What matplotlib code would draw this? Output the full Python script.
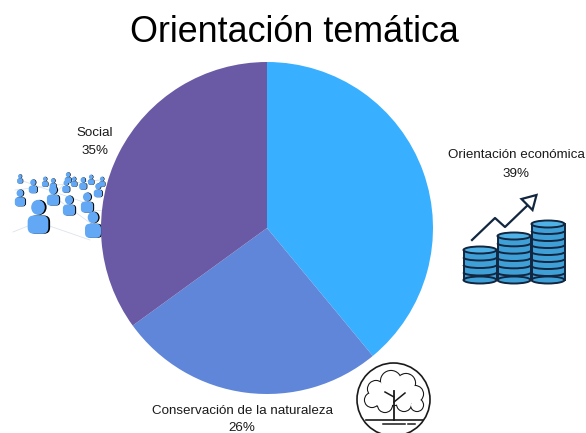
import matplotlib
matplotlib.use("Agg")
import matplotlib.pyplot as plt
from matplotlib.patches import Arc, Circle, Ellipse, FancyBboxPatch, Polygon, Rectangle

plt.rcParams["font.family"] = ["Liberation Sans", "DejaVu Sans"]

title = "Orientación temática"
categories = ["Orientación económica", "Conservación de la naturaleza", "Social"]
shares = [39, 26, 35]
colors = ["#38B0FF", "#5F86D9", "#6A5AA5"]

W, H = 586, 433
label_pos = [(516, 164.5), (242, 419.5), (95, 142)]
label_spacing = [1.75, 1.5, 1.75]  # bottom label sits right on the image edge

DARK = "#12263F"


def draw_person(ax, x, y, s):
    # black shadow first, then the blue figure on top
    for dx, col, z in [(0.08 * s, "black", 3), (0, "#62A8F5", 4)]:
        ax.add_patch(Ellipse((x + dx, y - 0.62 * s), 0.62 * s, 0.68 * s, fc=col, ec="none", zorder=z))
        ax.add_patch(FancyBboxPatch((x - 0.47 * s + dx, y - 0.25 * s), 0.94 * s, 0.83 * s,
                                    boxstyle="round,pad=0,rounding_size=%f" % (0.28 * s),
                                    fc=col, ec="none", zorder=z))


def draw_people(ax):
    links = [((13, 232), (38, 222)), ((15, 190), (100, 180)), ((38, 222), (90, 240)),
             ((20, 180), (92, 205)), ((53, 196), (38, 218)), ((53, 196), (93, 225)),
             ((68, 180), (53, 196)), ((86, 210), (107, 211)), ((93, 225), (107, 238))]
    for a, b in links:
        ax.plot([a[0], b[0]], [a[1], b[1]], color="#DCE4EC", lw=0.6, zorder=2)
    people = [(20, 180, 6), (33, 188, 9), (45, 183, 6.5), (53, 185, 7), (68, 179, 7),
              (66, 188, 8), (74, 183, 6.5), (83, 185, 8), (91, 181, 6.5), (102, 183, 6.5),
              (98, 192, 9), (20, 200, 11), (53, 198, 13), (69, 208, 13), (87, 205, 13),
              (38, 221, 22), (93, 228, 17)]
    for x, y, s in people:
        draw_person(ax, x, y, s)


def draw_stack(ax, xc, top, bottom, n):
    w = 33
    h = (bottom - top) / n
    ax.add_patch(Rectangle((xc - w / 2, top), w, bottom - top, fc="#3FA0D8", ec="none", zorder=3))
    ax.add_patch(Ellipse((xc, bottom), w, 7, fc="#3FA0D8", ec=DARK, lw=1.4, zorder=3))
    ax.plot([xc - w / 2, xc - w / 2], [top, bottom], color=DARK, lw=1.4, zorder=5)
    ax.plot([xc + w / 2, xc + w / 2], [top, bottom], color=DARK, lw=1.4, zorder=5)
    for i in range(1, n):
        ax.add_patch(Arc((xc, top + i * h), w, 6, theta1=0, theta2=180, ec=DARK, lw=1.4, zorder=4))
    ax.add_patch(Ellipse((xc, top), w, 7, fc="#4FB2E6", ec=DARK, lw=1.4, zorder=6))


def draw_coins(ax):
    draw_stack(ax, 480, 250, 280, 4)
    draw_stack(ax, 514, 236, 280, 6)
    draw_stack(ax, 548, 224, 280, 8)
    ax.plot([472, 495, 505, 530], [240, 218, 227, 203], color=DARK, lw=1.6, zorder=5)
    ax.add_patch(Polygon([(521.5, 199), (536.5, 195), (532.5, 210)], fc="white", ec=DARK, lw=1.6, zorder=5))


def draw_tree(ax):
    ink = "#1A1A1A"
    ax.add_patch(Circle((393.5, 399.5), 36.5, fc="white", ec=ink, lw=1.2, zorder=3))
    lobes = [(391, 381, 10), (406, 383, 9), (376, 389, 8), (415, 394, 8), (372, 400, 7),
             (385, 405, 7), (404, 404, 7), (417, 405, 6), (394, 393, 12), (380, 398, 8), (408, 396, 8)]
    for x, y, r in lobes:
        ax.add_patch(Circle((x, y), r + 1.1, fc=ink, ec="none", zorder=4))
    for x, y, r in lobes:
        ax.add_patch(Circle((x, y), r, fc="white", ec="none", zorder=5))
    ax.plot([394, 394], [391, 420], color=ink, lw=1.3, zorder=6)
    ax.plot([394, 385], [397, 392], color=ink, lw=1.1, zorder=6)
    ax.plot([394, 405], [402, 393], color=ink, lw=1.1, zorder=6)
    ax.plot([366, 423], [420, 420], color=ink, lw=1.2, zorder=6)
    ax.plot([383, 405], [424, 424], color=ink, lw=1.1, zorder=6)
    ax.plot([408, 415], [424, 424], color=ink, lw=1.1, zorder=6)


fig = plt.figure(figsize=(W / 100, H / 100), dpi=100, facecolor="white")

# overlay in pixel coords for icons and text
over = fig.add_axes([0, 0, 1, 1])
over.set_xlim(0, W)
over.set_ylim(H, 0)
over.axis("off")

draw_people(over)
draw_coins(over)
draw_tree(over)

over.text(294, 32, title, ha="center", va="center", fontsize=25.8, color="black")
for (x, y), name, val, sp in zip(label_pos, categories, shares, label_spacing):
    over.text(x, y, f"{name}\n{val}%", ha="center", va="center", fontsize=9.6,
              color="#1A1A1A", linespacing=sp, zorder=8)

# pie goes above the icons
R = 166
cx, cy = 267, 228
pie_ax = fig.add_axes([(cx - R) / W, 1 - (cy + R) / H, 2 * R / W, 2 * R / H], zorder=2)
pie_ax.pie(shares, colors=colors, startangle=90, counterclock=False, radius=1)
pie_ax.set_xlim(-1, 1)
pie_ax.set_ylim(-1, 1)

fig.savefig("out.png", dpi=100)
plt.close(fig)
